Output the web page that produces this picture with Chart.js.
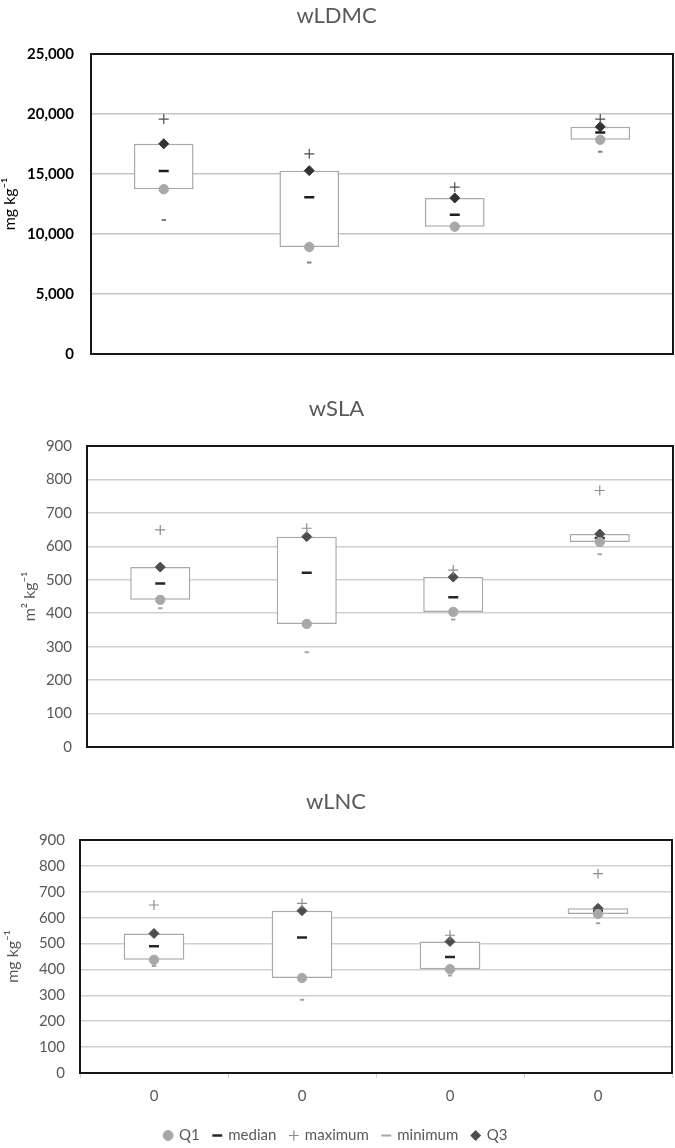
<!DOCTYPE html>
<html lang="en">
<head>
<meta charset="UTF-8">
<title>wLDMC, wSLA, wLNC</title>
<script src="https://cdn.jsdelivr.net/npm/chart.js"></script>
<style>
    html, body { margin: 0; padding: 0; background: #fff; overflow: hidden; }
    body { width: 675px; height: 1148px; position: relative; }
    .panel { position: absolute; left: -90px; width: 850px; }
    #p1 { top: 0; }
    #p2 { top: 380px; }
    #p3 { top: 760px; }
</style>
</head>
<body>
<div class="panel" id="p1"><canvas id="c1" width="850" height="380"></canvas></div>
<div class="panel" id="p2"><canvas id="c2" width="850" height="391"></canvas></div>
<div class="panel" id="p3"><canvas id="c3" width="850" height="393"></canvas></div>

<script>
// four groups, every one labelled "0" on the shared x axis
const categories = ['0', '0', '0', '0'];

// wLDMC (mg kg-1)
const ldmcQ1     = [13730,  8920, 10610, 17850];
const ldmcMedian = [15250, 13060, 11600, 18450];
const ldmcMax    = [19580, 16680, 13900, 19580];
const ldmcMin    = [11170,  7620, 10500, 16860];
const ldmcQ3     = [17520, 15280, 13000, 18930];

// wSLA (m2 kg-1)
const slaQ1     = [440, 368, 404, 613];
const slaMedian = [489, 521, 448, 625];
const slaMax    = [649, 654, 529, 767];
const slaMin    = [415, 283, 381, 576];
const slaQ3     = [538, 629, 508, 637];

// wLNC (mg kg-1)
const lncQ1     = [437, 367, 401, 614];
const lncMedian = [490, 523, 448, 625];
const lncMax    = [649, 655, 532, 770];
const lncMin    = [413, 283, 377, 578];
const lncQ3     = [539, 627, 508, 636];

const FONT = "Lato, 'Open Sans', sans-serif";

// black frame round the plot area
const frame = {
    id: 'frame',
    afterDraw(chart) {
        const { ctx, chartArea: a } = chart;
        ctx.save();
        ctx.strokeStyle = '#161616';
        ctx.lineWidth = 2;
        ctx.strokeRect(a.left, a.top, a.right - a.left, a.bottom - a.top);
        ctx.restore();
    }
};

function marker(label, data, shape, radius, fill, stroke, width, order) {
    return {
        type: 'line', label, data, order,
        showLine: false,
        pointStyle: shape,
        pointRadius: radius,
        pointHoverRadius: radius,
        pointBackgroundColor: fill,
        pointBorderColor: stroke,
        pointBorderWidth: width,
        backgroundColor: fill,
        borderColor: stroke,
        borderWidth: width
    };
}

function boxChart(id, cfg) {
    const datasets = [
        {
            type: 'bar',
            label: 'box',
            data: cfg.q1.map((v, i) => [v, cfg.q3[i]]),
            backgroundColor: '#ffffff',
            borderColor: '#a9a9a9',
            borderWidth: 1.5,
            borderSkipped: false,
            barPercentage: 0.41,
            categoryPercentage: 1,
            order: 10
        },
        marker('Q1', cfg.q1, 'circle', 4.7, '#a8a8a8', '#a8a8a8', 1, 1),
        marker('median', cfg.median, 'line', 5, cfg.dark, cfg.dark, 2.5, 2),
        marker('maximum', cfg.max, 'cross', 5, cfg.maxColor, cfg.maxColor, 1.2, 3),
        marker('minimum', cfg.min, 'line', 2.2, cfg.minColor, cfg.minColor, 2, 4),
        marker('Q3', cfg.q3, 'rectRot', 5, cfg.q3Color, cfg.q3Color, 1, 5)
    ];

    return new Chart(document.getElementById(id), {
        data: { labels: categories, datasets },
        plugins: [frame],
        options: {
            responsive: false,
            animation: false,
            events: [],
            layout: { padding: cfg.padding },
            plugins: {
                tooltip: { enabled: false },
                title: {
                    display: true,
                    text: cfg.title,
                    color: '#595959',
                    font: { family: FONT, size: 22, weight: 'normal' },
                    padding: cfg.titlePad
                },
                legend: {
                    display: cfg.legend,
                    position: 'bottom',
                    labels: {
                        usePointStyle: true,
                        boxWidth: 7,
                        boxHeight: 7,
                        padding: 14,
                        color: '#595959',
                        font: { family: FONT, size: 15 },
                        filter: item => item.text !== 'box'
                    }
                }
            },
            scales: {
                x: {
                    type: 'category',
                    display: cfg.showX,
                    offset: true,
                    grid: { drawOnChartArea: false, drawTicks: true, tickLength: 5, color: '#d4d4d4' },
                    border: { display: false },
                    ticks: { color: '#595959', padding: 9, font: { family: FONT, size: 15 } }
                },
                y: {
                    min: 0,
                    max: cfg.yMax,
                    afterFit: scale => { scale.width = cfg.axisWidth; },
                    grid: { color: cfg.gridColor, lineWidth: 1.5, drawTicks: false },
                    border: { display: false },
                    ticks: {
                        stepSize: cfg.step,
                        padding: cfg.tickPad,
                        color: cfg.tickColor,
                        font: { family: FONT, size: 15, weight: cfg.tickWeight },
                        callback: v => v.toLocaleString('en-US')
                    },
                    title: {
                        display: true,
                        text: cfg.yTitle,
                        color: cfg.tickColor,
                        font: { family: FONT, size: 16 },
                        padding: { top: cfg.yTitlePad, bottom: 0 }
                    }
                }
            }
        }
    });
}

boxChart('c1', {
    title: 'wLDMC', yTitle: 'mg kg\u207B\u00B9',
    q1: ldmcQ1, median: ldmcMedian, max: ldmcMax, min: ldmcMin, q3: ldmcQ3,
    yMax: 25000, step: 5000,
    axisWidth: 91, tickPad: 17, tickColor: '#000000', tickWeight: 'bold', yTitlePad: 0,
    gridColor: '#c4c4c4',
    dark: '#1f1f1f', maxColor: '#4d4d4d', minColor: '#7f7f7f', q3Color: '#333333',
    padding: { left: 90, right: 87, top: 0, bottom: 26 },
    titlePad: { top: 3, bottom: 24.6 },
    showX: false, legend: false
});

boxChart('c2', {
    title: 'wSLA', yTitle: 'm\u00B2 kg\u207B\u00B9',
    q1: slaQ1, median: slaMedian, max: slaMax, min: slaMin, q3: slaQ3,
    yMax: 900, step: 100,
    axisWidth: 87, tickPad: 15, tickColor: '#595959', tickWeight: 'normal', yTitlePad: 20,
    gridColor: '#d0d0d0',
    dark: '#262626', maxColor: '#8c8c8c', minColor: '#a6a6a6', q3Color: '#4d4d4d',
    padding: { left: 90, right: 87, top: 0, bottom: 13 },
    titlePad: { top: 16, bottom: 23.6 },
    showX: false, legend: false
});

boxChart('c3', {
    title: 'wLNC', yTitle: 'mg kg\u207B\u00B9',
    q1: lncQ1, median: lncMedian, max: lncMax, min: lncMin, q3: lncQ3,
    yMax: 900, step: 100,
    axisWidth: 80, tickPad: 15, tickColor: '#595959', tickWeight: 'normal', yTitlePad: 3,
    gridColor: '#d0d0d0',
    dark: '#262626', maxColor: '#8c8c8c', minColor: '#a6a6a6', q3Color: '#4d4d4d',
    padding: { left: 90, right: 88, top: 0, bottom: 0 },
    titlePad: { top: 29, bottom: 24.6 },
    showX: true, legend: true
});
</script>
</body>
</html>
